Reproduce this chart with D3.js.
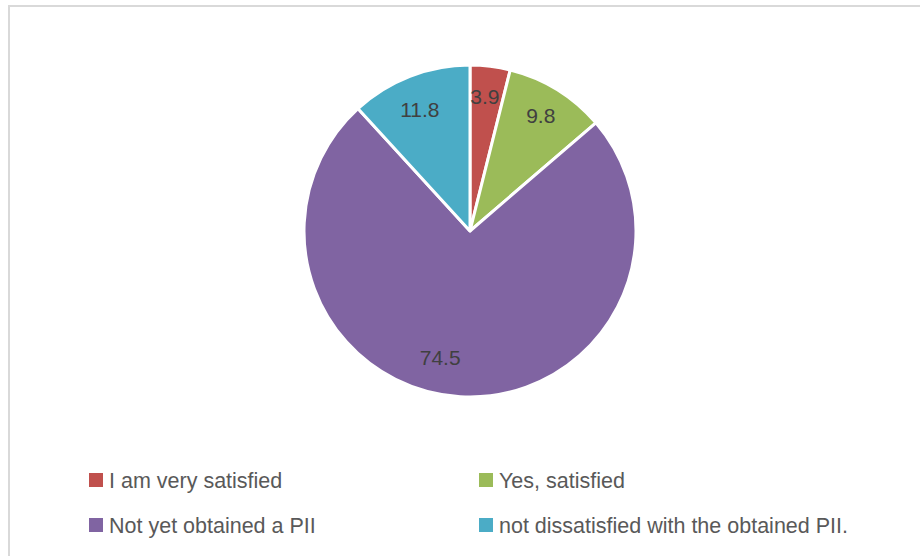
<!DOCTYPE html>
<html>
<head>
<meta charset="utf-8">
<script src="https://cdn.jsdelivr.net/npm/d3@7"></script>
<style>
  body { margin: 0; background: #fff; }
  svg { display: block; font-family: "Liberation Sans", Arial, sans-serif; }
</style>
</head>
<body>
<svg id="chart" width="920" height="556"></svg>
<script>
const categories = [
  'I am very satisfied',
  'Yes, satisfied',
  'Not yet obtained a PII',
  'not dissatisfied with the obtained PII.'
];
const values = [3.9, 9.8, 74.5, 11.8];
const colors = ['#C0504D', '#9BBB59', '#8064A2', '#4BACC6'];

const W = 920, H = 556;
const cx = 470, cy = 231, R = 166;

const svg = d3.select('#chart');

// chart border (runs off the right and bottom edge)
svg.append('rect')
  .attr('x', 9).attr('y', 6)
  .attr('width', W).attr('height', H)
  .attr('fill', 'none')
  .attr('stroke', '#d9d9d9')
  .attr('stroke-width', 2);

const data = categories.map((c, i) => ({ name: c, value: values[i], color: colors[i] }));

const pie = d3.pie().value(d => d.value).sort(null);
const arc = d3.arc().innerRadius(0).outerRadius(R);
const arcs = pie(data);

const g = svg.append('g').attr('transform', `translate(${cx},${cy})`);

g.selectAll('path')
  .data(arcs)
  .enter()
  .append('path')
  .attr('d', arc)
  .attr('fill', d => d.data.color)
  .attr('stroke', '#fff')
  .attr('stroke-width', 3)
  .attr('stroke-linejoin', 'round');

// data labels, roughly where excel's best fit puts them
const labelR = [0.83, 0.835, 0.77, 0.8];
const labelTurn = [0, 0, 0.16, 0];
g.selectAll('text.lbl')
  .data(arcs)
  .enter()
  .append('text')
  .attr('class', 'lbl')
  .attr('x', (d, i) => Math.sin((d.startAngle + d.endAngle) / 2 + labelTurn[i]) * R * labelR[i] - 2)
  .attr('y', (d, i) => -Math.cos((d.startAngle + d.endAngle) / 2 + labelTurn[i]) * R * labelR[i] + 2)
  .attr('text-anchor', 'middle')
  .attr('dominant-baseline', 'central')
  .attr('fill', '#404040')
  .style('font-size', '21px')
  .text(d => d.data.value);

// legend, two columns
const legX = d3.scaleOrdinal().domain([0, 1]).range([89, 479]);
const legY = d3.scaleOrdinal().domain([0, 1]).range([480, 525]);

const leg = svg.selectAll('g.leg')
  .data(data)
  .enter()
  .append('g')
  .attr('class', 'leg')
  .attr('transform', (d, i) => `translate(${legX(i % 2)},${legY(Math.floor(i / 2))})`);

leg.append('rect')
  .attr('x', 0).attr('y', -7)
  .attr('width', 14).attr('height', 14)
  .attr('fill', d => d.color);

leg.append('text')
  .attr('x', 20)
  .attr('y', 1)
  .attr('dominant-baseline', 'central')
  .attr('fill', '#595959')
  .style('font-size', '21.5px')
  .text(d => d.name);
</script>
</body>
</html>
